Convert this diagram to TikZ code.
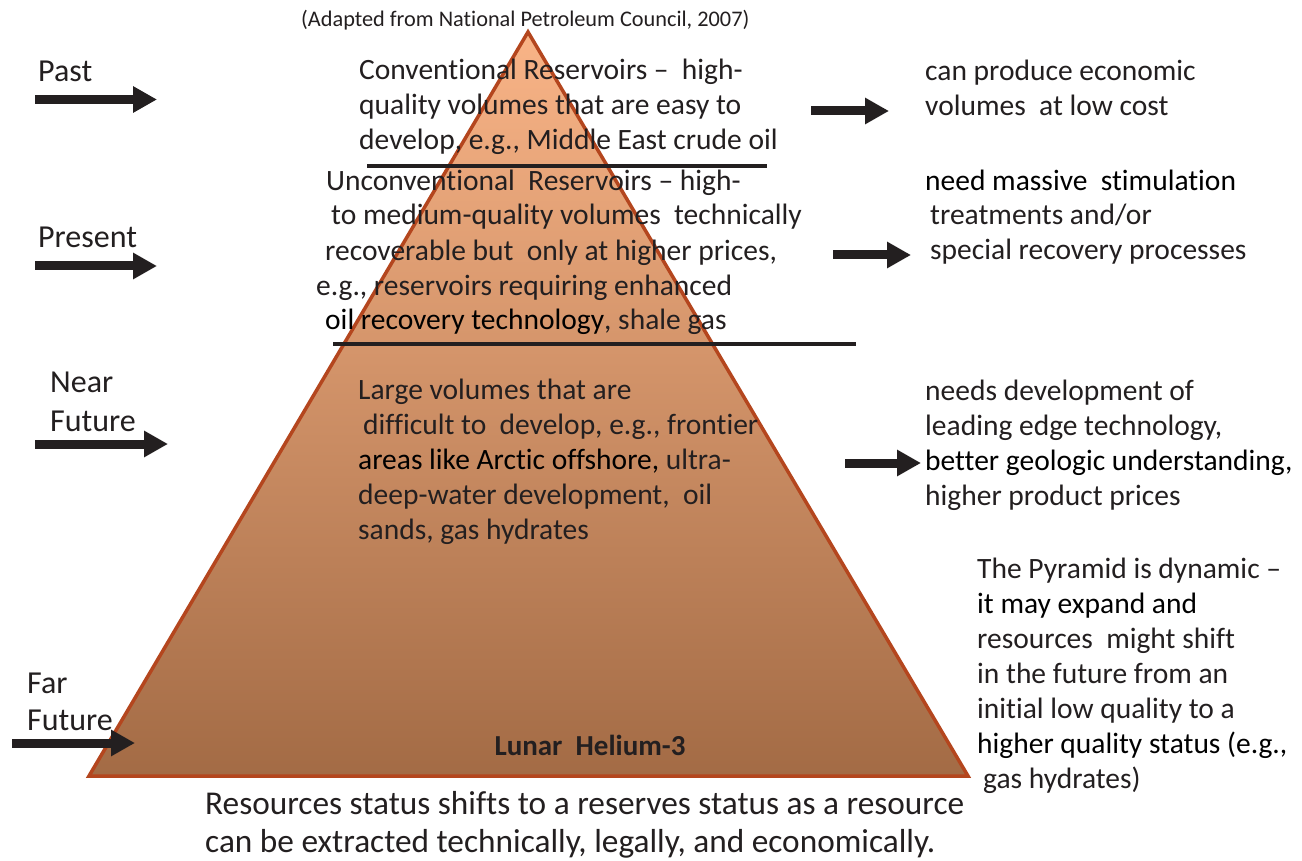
\documentclass[tikz,border=0pt]{standalone}
\usepackage{fontspec}
\setmainfont{Carlito}[Ligatures=NoCommon]
\usetikzlibrary{arrows.meta}
\definecolor{ink}{HTML}{231F20}
\definecolor{rim}{HTML}{B4461E}
\definecolor{pyrtop}{HTML}{F9B487}
\definecolor{pyrmid}{HTML}{E29D6C}
\definecolor{pyrbot}{HTML}{A36B45}
\begin{document}
% multi-line nodes are placed by the baseline of their last line
\begin{tikzpicture}[x=1pt,y=-1pt,
  txt/.style={anchor=base west, inner sep=0pt, align=left, text=ink,
    font=\fontsize{29.5}{35}\selectfont},
  era/.style={anchor=base west, inner sep=0pt, align=left, text=ink,
    font=\fontsize{32}{39}\selectfont},
  srccap/.style={anchor=base west, inner sep=0pt, text=ink,
    font=\fontsize{22.3}{26}\selectfont},
  foot/.style={anchor=base west, inner sep=0pt, align=left, text=ink,
    font=\fontsize{33.3}{38}\selectfont},
  bigarrow/.style={draw=ink, line width=9pt,
    -{Triangle[length=24pt,width=25pt]}},
  divider/.style={draw=ink, line width=4.5pt}]
\useasboundingbox (0,0) rectangle (1302,861);
\fill[white] (0,0) rectangle (1302,861);

% pyramid
\coordinate (apex) at (528,32);
\coordinate (bl) at (89,776);
\coordinate (br) at (968,776);
\shade[top color=pyrtop, middle color=pyrmid, bottom color=pyrbot]
  (apex) -- (br) -- (bl) -- cycle;
\draw[rim, line width=3.5pt, line join=miter] (apex) -- (br) -- (bl) -- cycle;

% dividing lines between the tiers
\coordinate (d1a) at (367,166);
\coordinate (d1b) at (767,166);
\coordinate (d2a) at (333,344);
\coordinate (d2b) at (856,344);
\draw[divider] (d1a) -- (d1b);
\draw[divider] (d2a) -- (d2b);

% caption
\node[srccap] (source) at (301,27) {(Adapted from National Petroleum Council, 2007)};

% tier texts
\node[txt] (tier1) at (359,149.5) {Conventional Reservoirs –~ high-\\
quality volumes that are easy to\\
develop, e.g., Middle East crude oil};
\node[txt] (tier2) at (316,330) {\hspace*{10pt}Unconventional~ Reservoirs – high-\\
\hspace*{15pt}to medium-quality volumes~ technically\\
\hspace*{9pt}recoverable but~ only at higher prices,\\
e.g., reservoirs requiring enhanced\\
\hspace*{9pt}\textcolor{black}{oil recovery technology}, shale gas};
\node[txt] (tier3) at (358,539) {Large volumes that are\\
\hspace*{5pt}difficult to~ develop, e.g., frontier\\
\textcolor{black}{areas like Arctic offshore,} ultra-\\
deep-water development,~ oil\\
sands, gas hydrates};
\node[anchor=base, inner sep=0pt, text=ink, font=\fontsize{29}{35}\selectfont\bfseries]
  (tier4) at (590,755) {Lunar~ Helium-3};

% time labels
\node[era] (past) at (38,82) {Past};
\node[era] (present) at (38,248) {Present};
\node[era] (near) at (50,431) {Near\\Future};
\node[era] (far) at (27,730) {Far\\[-2pt]Future};

% right-hand notes
\node[txt] (note1) at (925,116) {can produce economic\\
volumes~ at low cost};
\node[txt] (note2) at (925,260) {\textcolor{black}{need massive~ stimulation}\\
\hspace*{5pt}treatments and/or\\
\hspace*{5pt}special recovery processes};
\node[txt] (note3) at (925,505) {needs development of\\
leading edge technology,\\
\textcolor{black}{better geologic understanding,}\\
higher product prices};
\node[txt] (note4) at (977,788) {The Pyramid is dynamic –\\
\textcolor{black}{it may expand and}\\
resources~ might shift\\
in the future from an\\
initial low quality to a\\
\textcolor{black}{higher quality status (e.g.,}\\
\hspace*{6pt}gas hydrates)};

% footer
\node[foot] (footer) at (205,852) {Resources status shifts to a reserves status as a resource\\
can be extracted technically, legally, and economically.};

% arrows on the left
\coordinate (pa0) at (35,99.5);   \coordinate (pa1) at (157,99.5);
\coordinate (pr0) at (35,266);    \coordinate (pr1) at (157,266);
\coordinate (nf0) at (35,444);    \coordinate (nf1) at (168,444);
\coordinate (ff0) at (12,743);    \coordinate (ff1) at (135,743);
\draw[bigarrow] (pa0) -- (pa1);
\draw[bigarrow] (pr0) -- (pr1);
\draw[bigarrow] (nf0) -- (nf1);
\draw[bigarrow] (ff0) -- (ff1);

% arrows on the right
\coordinate (r10) at (811,111);   \coordinate (r11) at (889,111);
\coordinate (r20) at (833,255);   \coordinate (r21) at (911,255);
\coordinate (r30) at (845,463);   \coordinate (r31) at (921,463);
\draw[bigarrow] (r10) -- (r11);
\draw[bigarrow] (r20) -- (r21);
\draw[bigarrow] (r30) -- (r31);
\end{tikzpicture}
\end{document}
